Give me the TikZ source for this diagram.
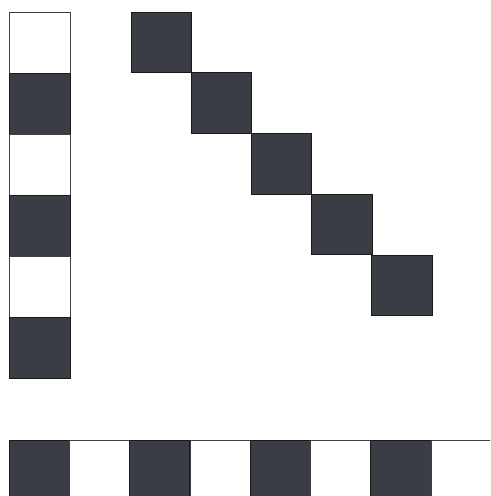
\documentclass[tikz,border=0pt]{standalone}
\usepackage{xcolor}
\usetikzlibrary{calc}
\definecolor{tiledark}{RGB}{58,61,67}
\tikzset{
 darktile/.style={fill=tiledark,draw=black!90,line width=0.5pt},
 lighttile/.style={fill=white,draw=black!75,line width=0.4pt}
}

\begin{document}
\begin{tikzpicture}[x=0.02cm,y=-0.02cm]
\useasboundingbox (0,0) rectangle (490,496);
\clip (0,0) rectangle (490,496);
% upright strip
\foreach \k/\sty in {0/lighttile,1/darktile,2/lighttile,3/darktile,4/lighttile,5/darktile} {
 \draw[\sty] (9,{12+61*\k}) rectangle ++(61,61);
}
% staircase
\foreach \k in {0,...,4} {
 \draw[darktile] ({131+60.2*\k},{12+60.8*\k}) rectangle ++(60.4,60.4);
}
% lying strip
\foreach \k/\sty in {0/darktile,1/lighttile,2/darktile,3/lighttile,4/darktile,5/lighttile,6/darktile,7/lighttile} {
 \draw[\sty] ({9+60.3*\k},440) rectangle ++(60.3,62);
}
\end{tikzpicture}
\end{document}
